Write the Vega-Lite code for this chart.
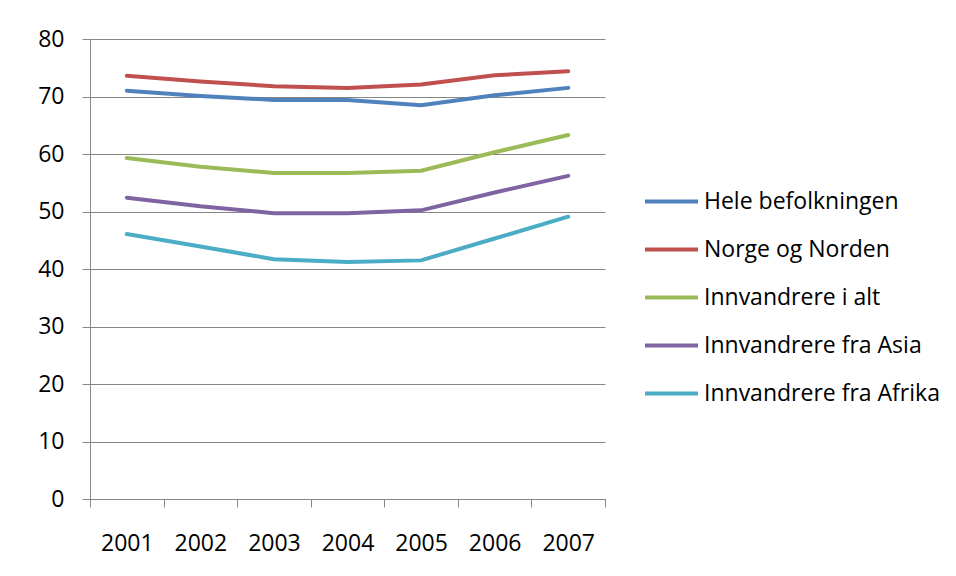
{
  "$schema": "https://vega.github.io/schema/vega-lite/v6.json",
  "width": 515,
  "height": 460,
  "autosize": {"type": "none"},
  "padding": {"left": 90, "top": 39, "right": 351, "bottom": 77},
  "background": "white",
  "data": {"values": [
    {"year": "2001", "series": "Hele befolkningen", "value": 71.0},
    {"year": "2002", "series": "Hele befolkningen", "value": 70.1},
    {"year": "2003", "series": "Hele befolkningen", "value": 69.4},
    {"year": "2004", "series": "Hele befolkningen", "value": 69.4},
    {"year": "2005", "series": "Hele befolkningen", "value": 68.5},
    {"year": "2006", "series": "Hele befolkningen", "value": 70.2},
    {"year": "2007", "series": "Hele befolkningen", "value": 71.5},
    {"year": "2001", "series": "Norge og Norden", "value": 73.6},
    {"year": "2002", "series": "Norge og Norden", "value": 72.6},
    {"year": "2003", "series": "Norge og Norden", "value": 71.8},
    {"year": "2004", "series": "Norge og Norden", "value": 71.5},
    {"year": "2005", "series": "Norge og Norden", "value": 72.1},
    {"year": "2006", "series": "Norge og Norden", "value": 73.7},
    {"year": "2007", "series": "Norge og Norden", "value": 74.4},
    {"year": "2001", "series": "Innvandrere i alt", "value": 59.3},
    {"year": "2002", "series": "Innvandrere i alt", "value": 57.8},
    {"year": "2003", "series": "Innvandrere i alt", "value": 56.7},
    {"year": "2004", "series": "Innvandrere i alt", "value": 56.7},
    {"year": "2005", "series": "Innvandrere i alt", "value": 57.1},
    {"year": "2006", "series": "Innvandrere i alt", "value": 60.3},
    {"year": "2007", "series": "Innvandrere i alt", "value": 63.3},
    {"year": "2001", "series": "Innvandrere fra Asia", "value": 52.4},
    {"year": "2002", "series": "Innvandrere fra Asia", "value": 50.9},
    {"year": "2003", "series": "Innvandrere fra Asia", "value": 49.7},
    {"year": "2004", "series": "Innvandrere fra Asia", "value": 49.7},
    {"year": "2005", "series": "Innvandrere fra Asia", "value": 50.2},
    {"year": "2006", "series": "Innvandrere fra Asia", "value": 53.3},
    {"year": "2007", "series": "Innvandrere fra Asia", "value": 56.2},
    {"year": "2001", "series": "Innvandrere fra Afrika", "value": 46.1},
    {"year": "2002", "series": "Innvandrere fra Afrika", "value": 43.9},
    {"year": "2003", "series": "Innvandrere fra Afrika", "value": 41.7},
    {"year": "2004", "series": "Innvandrere fra Afrika", "value": 41.2},
    {"year": "2005", "series": "Innvandrere fra Afrika", "value": 41.5},
    {"year": "2006", "series": "Innvandrere fra Afrika", "value": 45.3},
    {"year": "2007", "series": "Innvandrere fra Afrika", "value": 49.1}
  ]},
  "mark": {"type": "line", "strokeWidth": 4, "strokeCap": "round"},
  "encoding": {
    "x": {
      "field": "year", "type": "ordinal",
      "scale": {"type": "band", "paddingInner": 0, "paddingOuter": 0},
      "axis": {
        "title": null, "labelAngle": 0, "tickBand": "extent",
        "labelFont": "Open Sans", "labelFontSize": 23, "labelColor": "#000",
        "labelPadding": 25, "tickSize": 8, "tickColor": "#868686",
        "domainColor": "#868686", "grid": false
      }
    },
    "y": {
      "field": "value", "type": "quantitative",
      "scale": {"domain": [0, 80], "nice": false},
      "axis": {
        "title": null, "values": [0, 10, 20, 30, 40, 50, 60, 70, 80],
        "labelFont": "Open Sans", "labelFontSize": 23, "labelColor": "#000",
        "labelPadding": 18, "tickSize": 8, "tickColor": "#868686",
        "domainColor": "#868686", "gridColor": "#868686", "gridWidth": 1
      }
    },
    "color": {
      "field": "series", "type": "nominal",
      "scale": {
        "domain": ["Hele befolkningen", "Norge og Norden", "Innvandrere i alt", "Innvandrere fra Asia", "Innvandrere fra Afrika"],
        "range": ["#4F81BD", "#C0504D", "#9BBB59", "#8064A2", "#4BACC6"]
      },
      "legend": {
        "title": null, "orient": "none", "legendX": 553, "legendY": 134,
        "symbolType": "stroke", "symbolSize": 2809, "symbolStrokeWidth": 4,
        "labelFont": "Open Sans", "labelFontSize": 23, "labelColor": "#000",
        "labelLimit": 0, "rowPadding": 7, "labelOffset": 4
      }
    }
  },
  "config": {"view": {"stroke": null}}
}
